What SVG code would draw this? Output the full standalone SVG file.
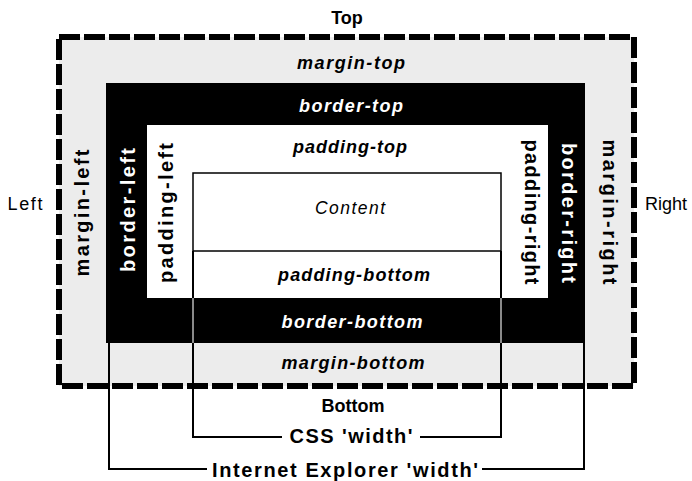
<svg xmlns="http://www.w3.org/2000/svg" width="692" height="481" viewBox="0 0 692 481">
  <style>
    .lbl { font-family: "Liberation Sans", Arial, sans-serif; font-weight: bold; font-style: italic; font-size: 18px; text-anchor: middle; }
    .side { font-family: "Liberation Sans", Arial, sans-serif; font-weight: bold; font-size: 20px; text-anchor: middle; }
    .edge { font-family: "Liberation Sans", Arial, sans-serif; font-size: 18px; text-anchor: middle; }
    .dim { font-family: "Liberation Sans", Arial, sans-serif; font-weight: bold; font-size: 20px; text-anchor: middle; }
    .dark { fill: #000; }
    .light { fill: #fff; }
    .guide { fill: none; stroke: #000; stroke-width: 2; }
  </style>
  <rect width="692" height="481" fill="#fff"/>

  <!-- margin box -->
  <g id="margin">
    <rect x="59" y="37" width="575" height="349" fill="#ececec"/>
    <rect x="59" y="37" width="575" height="349" fill="none" stroke="#000" stroke-width="6" stroke-dasharray="21 4"/>
    <text class="lbl dark" x="351" y="69" textLength="108" lengthAdjust="spacing">margin-top</text>
    <text class="lbl dark" x="353" y="369" textLength="143" lengthAdjust="spacing">margin-bottom</text>
    <text class="side dark" transform="translate(89 213) rotate(-90)" textLength="127" lengthAdjust="spacing">margin-left</text>
    <text class="side dark" transform="translate(603 212) rotate(90)" textLength="145" lengthAdjust="spacing">margin-right</text>
  </g>

  <!-- border box -->
  <g id="border">
    <rect x="106" y="83" width="479" height="260" fill="#000"/>
    <text class="lbl light" x="351" y="112" textLength="104" lengthAdjust="spacing">border-top</text>
    <text class="lbl light" x="352" y="328" textLength="141" lengthAdjust="spacing">border-bottom</text>
    <text class="side light" transform="translate(135 210) rotate(-90)" textLength="124" lengthAdjust="spacing">border-left</text>
    <text class="side light" transform="translate(562 213) rotate(90)" textLength="140" lengthAdjust="spacing">border-right</text>
  </g>

  <!-- padding box -->
  <g id="padding">
    <rect x="147" y="125" width="401" height="173" fill="#fff"/>
    <text class="lbl dark" x="350" y="153" textLength="114" lengthAdjust="spacing">padding-top</text>
    <text class="lbl dark" x="354" y="281" textLength="152" lengthAdjust="spacing">padding-bottom</text>
    <text class="side dark" transform="translate(173 213) rotate(-90)" textLength="140" lengthAdjust="spacing">padding-left</text>
    <text class="side dark" transform="translate(525 212) rotate(90)" textLength="145" lengthAdjust="spacing">padding-right</text>
  </g>

  <!-- content box -->
  <g id="content">
    <rect x="193" y="173" width="308" height="78" fill="#fff" stroke="#000" stroke-width="1.5"/>
    <text x="350" y="214" font-family="Liberation Sans, Arial, sans-serif" font-style="italic" font-size="17.5" text-anchor="middle" textLength="70" lengthAdjust="spacing">Content</text>
  </g>

  <!-- side labels -->
  <g id="edges">
    <text class="edge" x="347" y="24" font-weight="bold" font-size="17">Top</text>
    <text class="edge" x="25" y="210" textLength="35" lengthAdjust="spacing">Left</text>
    <text class="edge" x="666" y="210" textLength="42" lengthAdjust="spacing">Right</text>
    <text class="edge" x="353" y="412" font-weight="bold" font-size="16" textLength="63" lengthAdjust="spacing">Bottom</text>
  </g>

  <!-- width brackets -->
  <g id="connectors">
    <path class="guide" d="M193 251 V437 H282 M420 437 H501 V251"/>
    <path d="M193 298 V343 M501 298 V343" stroke="#8a8a8a" stroke-width="2"/>
    <path class="guide" d="M109 343 V469 H207 M482 469 H584 V343"/>
  </g>

  <g id="css-width">
    <text class="dim" x="351" y="443" textLength="123" lengthAdjust="spacing">CSS 'width'</text>
  </g>
  <g id="ie-width">
    <text class="dim" x="345" y="477" textLength="266" lengthAdjust="spacing">Internet Explorer 'width'</text>
  </g>
</svg>
